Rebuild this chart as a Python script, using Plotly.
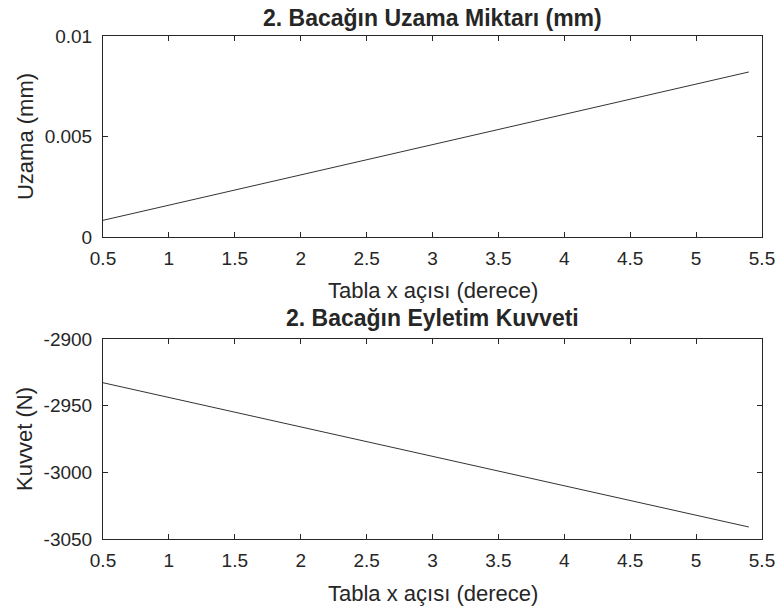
import plotly.graph_objects as go
from plotly.subplots import make_subplots

# Data
x_deg = [0.5, 1.0, 1.5, 2.0, 2.5, 3.0, 3.5, 4.0, 4.5, 5.0, 5.4]
uzama_mm = [0.00083, 0.00158, 0.00233, 0.00309, 0.00384, 0.00460,
            0.00535, 0.00610, 0.00686, 0.00761, 0.00821]
kuvvet_N = [-2932.8, -2943.8, -2954.9, -2965.9, -2977.0, -2988.0,
            -2999.1, -3010.1, -3021.2, -3032.2, -3041.0]

x_ticks = [0.5, 1, 1.5, 2, 2.5, 3, 3.5, 4, 4.5, 5, 5.5]
x_ticktext = ["0.5", "1", "1.5", "2", "2.5", "3", "3.5", "4", "4.5", "5", "5.5"]
y1_ticks = [0, 0.005, 0.01]
y1_ticktext = ["0", "0.005", "0.01"]
y2_ticks = [-3050, -3000, -2950, -2900]
y2_ticktext = ["-3050", "-3000", "-2950", "-2900"]

title_top = "2. Bacağın Uzama Miktarı (mm)"
title_bot = "2. Bacağın Eyletim Kuvveti"
xlabel = "Tabla x açısı (derece)"
ylabel_top = "Uzama (mm)"
ylabel_bot = "Kuvvet (N)"

AX = "#262626"
FONT = "Liberation Sans, Arial, Helvetica, sans-serif"
TICK_SIZE = 19
LABEL_SIZE = 22
TITLE_SIZE = 23

fig = make_subplots(rows=2, cols=1)
fig.add_trace(go.Scatter(x=x_deg, y=uzama_mm, mode="lines",
                         line=dict(color="#333333", width=1), showlegend=False), row=1, col=1)
fig.add_trace(go.Scatter(x=x_deg, y=kuvvet_N, mode="lines",
                         line=dict(color="#333333", width=1), showlegend=False), row=2, col=1)

common_axis = dict(showline=True, linecolor=AX, linewidth=1, mirror="ticks",
                   ticks="inside", ticklen=5, tickcolor=AX, showgrid=False,
                   zeroline=False, automargin=False,
                   tickfont=dict(size=TICK_SIZE, color=AX, family=FONT))

fig.update_xaxes(**common_axis, range=[0.5, 5.5], tickvals=x_ticks, ticktext=x_ticktext,
                 ticklabelstandoff=4)
fig.update_yaxes(**common_axis, ticklabelstandoff=6)
fig.update_yaxes(range=[0, 0.01], tickvals=y1_ticks, ticktext=y1_ticktext, row=1, col=1)
fig.update_yaxes(range=[-3050, -2900], tickvals=y2_ticks, ticktext=y2_ticktext, row=2, col=1)

def ann(text, x, y, size, angle=0):
    return dict(text=text, x=x, xref="paper", y=y, yref="paper", xanchor="center",
                yanchor="middle", showarrow=False, textangle=angle,
                font=dict(size=size, color=AX, family=FONT))

fig.update_layout(
    width=779, height=609,
    margin=dict(l=103, r=17, t=36, b=70),
    paper_bgcolor="white", plot_bgcolor="white",
    font=dict(family=FONT, color=AX),
    xaxis=dict(domain=[0, 1]), xaxis2=dict(domain=[0, 1]),
    yaxis=dict(domain=[0.6004, 1.0]), yaxis2=dict(domain=[0.0, 0.3976]),
    annotations=[
        ann("<b>" + title_top + "</b>", 0.5, 1.0358, TITLE_SIZE),
        ann("<b>" + title_bot + "</b>", 0.5, 0.4394, TITLE_SIZE),
        ann(xlabel, 0.5, 0.495, LABEL_SIZE),
        ann(xlabel, 0.5, -0.1074, LABEL_SIZE),
        ann(ylabel_top, -0.1184, 0.801, LABEL_SIZE, -90),
        ann(ylabel_bot, -0.1184, 0.199, LABEL_SIZE, -90),
    ],
)

# remove the default 8px page margin so the 779x609 figure fills the window exactly
fig.write_html("out.html",
               config={"displayModeBar": False},
               post_script="document.body.style.margin='0px';document.body.style.overflow='hidden';")
